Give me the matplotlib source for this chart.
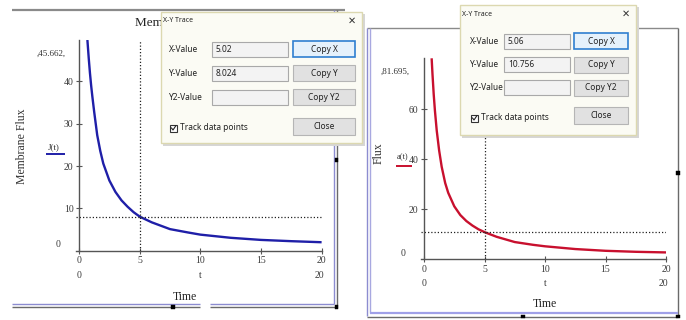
import matplotlib
matplotlib.use("Agg")
import matplotlib.pyplot as plt
from matplotlib.patches import Rectangle

# curve values
t_left = [0.69, 0.8, 0.9, 1.0, 1.1, 1.25, 1.5, 1.75, 2.0, 2.5, 3.0, 3.5, 4.0, 4.5,
          5.02, 6.0, 7.5, 9.0, 10.0, 12.5, 15.0, 17.5, 20.0]
j_left = [49.8, 45.5, 42.0, 39.0, 36.4, 32.8, 27.3, 23.6, 20.6, 16.6, 13.9, 11.9, 10.4, 9.1,
          8.024, 6.7, 5.1, 4.3, 3.8, 3.05, 2.55, 2.25, 2.0]

t_right = [0.63, 0.7, 0.8, 0.9, 1.05, 1.25, 1.46, 1.75, 2.0, 2.5, 3.0, 3.5, 4.0, 4.5,
           5.06, 6.0, 7.5, 9.0, 10.0, 12.5, 15.0, 17.5, 20.0]
a_right = [80.4, 74.0, 66.0, 59.5, 51.5, 43.5, 37.0, 30.5, 26.6, 21.2, 17.7, 15.3, 13.5, 12.0,
           10.756, 9.0, 6.9, 5.8, 5.2, 4.1, 3.4, 3.0, 2.75]

# trace cursor values shown in the dialogs
trace_left = (5.02, 8.024)
trace_right = (5.06, 10.756)
max_left = "45.662"
max_right = "81.695"

x_ticks = [0, 5, 10, 15, 20]
y_ticks_left = [10, 20, 30, 40]
y_ticks_right = [20, 40, 60]

W, H = 686, 320
fig = plt.figure(figsize=(W / 100, H / 100), dpi=100)
fig.patch.set_facecolor("white")

serif = "Liberation Serif"
ui = "Noto Sans"
tick_col = "#3a3a3a"


def px_axes(x0, y0, x1, y1):
    return fig.add_axes([x0 / W, 1 - y1 / H, (x1 - x0) / W, (y1 - y0) / H])


def style_axes(ax, ymax, yticks):
    ax.set_xlim(-0.25, 20)
    ax.set_ylim(0, ymax)
    for s in ["top", "right"]:
        ax.spines[s].set_visible(False)
    ax.spines["left"].set_position(("data", 0))
    for s in ["left", "bottom"]:
        ax.spines[s].set_color("#555555")
        ax.spines[s].set_linewidth(1.0)
    ax.set_xticks(x_ticks)
    ax.set_yticks(yticks)
    ax.tick_params(direction="inout", length=4, width=0.8, color="#555555",
                   labelsize=7, labelcolor=tick_col, pad=2)
    for lab in ax.get_xticklabels() + ax.get_yticklabels():
        lab.set_fontfamily(serif)
    ax.patch.set_alpha(0)
    # Mathcad style lower limit labels + variable name
    ax.text(-0.075, 0.03, "0", transform=ax.transAxes, fontsize=7, family=serif,
            color=tick_col, ha="center", va="center")
    ax.text(0, -0.12, "0", transform=ax.get_xaxis_transform(), fontsize=7,
            family=serif, color=tick_col, ha="center", va="center")
    ax.text(10, -0.12, "t", transform=ax.get_xaxis_transform(), fontsize=7,
            family=serif, color=tick_col, ha="center", va="center")
    ax.text(19.8, -0.12, "20", transform=ax.get_xaxis_transform(), fontsize=7,
            family=serif, color=tick_col, ha="center", va="center")


# left plot
ax1 = px_axes(76, 40, 321.6, 250.7)
style_axes(ax1, 49.8, y_ticks_left)
ax1.plot(t_left, j_left, color="#1f1fa8", lw=1.7, solid_capstyle="butt")
ax1.axvline(trace_left[0], color="#222222", lw=0.9, ls=(0, (1, 1.6)))
ax1.axhline(trace_left[1], color="#222222", lw=0.9, ls=(0, (1, 1.6)))

# right plot
ax2 = px_axes(421, 58.3, 666, 259.3)
style_axes(ax2, 80.4, y_ticks_right)
ax2.plot(t_right, a_right, color="#c8102e", lw=1.7, solid_capstyle="butt")
ax2.axvline(trace_right[0], color="#222222", lw=0.9, ls=(0, (1, 1.6)))
ax2.axhline(trace_right[1], color="#222222", lw=0.9, ls=(0, (1, 1.6)))

# overlay in pixel coordinates for frames, labels and dialogs
ov = fig.add_axes([0, 0, 1, 1])
ov.set_xlim(0, W)
ov.set_ylim(H, 0)
ov.axis("off")
ov.patch.set_alpha(0)
ov.set_zorder(10)


def line(xs, ys, c, lw=1.0, z=2):
    ov.plot(xs, ys, color=c, lw=lw, zorder=z, solid_capstyle="butt")


def rect(x0, y0, x1, y1, fc, ec, lw=0.8, z=5):
    p = Rectangle((x0, y0), x1 - x0, y1 - y0, facecolor=fc, edgecolor=ec,
                  lw=lw, zorder=z)
    ov.add_patch(p)
    return p


def handle(x, y):
    rect(x - 1.6, y - 1.6, x + 1.6, y + 1.6, "black", "black", 0.3, 3)


# left region frame
line([12, 345], [10, 10], "#8a8a8a", 1.6)
line([333.5, 333.5], [10, 303.5], "#8c8cd0", 1.0)
line([336.5, 336.5], [10, 307.5], "#6a6a6a", 1.0)
line([12, 200], [303.5, 303.5], "#8c8cd0", 1.0)
line([210, 334], [303.5, 303.5], "#8c8cd0", 1.0)
line([12, 200], [307, 307], "#6a6a6a", 1.0)
line([210, 337], [307, 307], "#6a6a6a", 1.0)
handle(173, 307)
handle(336.5, 307)
handle(336.5, 160)

# right region frame
line([367, 678], [28, 28], "#8a8a8a", 1.0)
line([678, 678], [28, 316], "#6a6a6a", 1.0)
line([367, 367], [28, 316], "#8c8cd0", 1.0)
line([370, 370], [28, 313], "#a8a8e0", 1.0)
line([370, 678], [313, 313], "#a0a0e8", 1.6)
line([367, 678], [316.5, 316.5], "#6a6a6a", 1.0)
handle(523, 316.5)
handle(678, 316.5)
handle(678, 173)

# texts of the plots; the left title is hidden behind the trace dialog
title = ov.text(135, 23, "Membrane Flux", fontsize=9.5, family=serif,
                color="#222222", ha="left", va="center", zorder=2)
clip = Rectangle((0, 0), 161, 60, transform=ov.transData, visible=False)
title.set_clip_path(clip)

ov.text(22, 146, "Membrane Flux", fontsize=8.5, family=serif, color="#333333",
        rotation=90, ha="center", va="center", zorder=2)
ov.text(54, 147, "J(t)", fontsize=6.5, family=serif, color="#333333",
        ha="center", va="center", zorder=2)
line([46, 65], [154, 154], "#1f1fa8", 1.4)
ov.text(51, 54, "," + max_left + ",", fontsize=6.5, family=serif, color="#333333",
        ha="center", va="center", zorder=2)
ov.text(185, 297, "Time", fontsize=8.5, family=serif, color="#222222",
        ha="center", va="center", zorder=2)

ov.text(379, 153, "Flux", fontsize=8.5, family=serif, color="#333333",
        rotation=90, ha="center", va="center", zorder=2)
ov.text(403, 157, "a(t)", fontsize=6, family=serif, color="#333333",
        ha="center", va="center", zorder=2)
line([396, 412], [166, 166], "#c8102e", 1.4)
ov.text(395, 72, "," + max_right + ",", fontsize=6.5, family=serif, color="#333333",
        ha="center", va="center", zorder=2)
ov.text(545, 304, "Time", fontsize=8.5, family=serif, color="#222222",
        ha="center", va="center", zorder=2)


def dialog(x0, y0, x1, y1, lab_x, box_x, btn_x, rows, chk_y, close_y, xval, yval):
    # shadow + body
    rect(x0 + 1.5, y0 + 1.5, x1 + 2.5, y1 + 2.5, "#d6d6d6", "none", 0, 5)
    rect(x0, y0, x1, y1, "#fbfbf4", "#dcd8b0", 1.0, 6)
    ov.text(x0 + 2, y0 + 9, "X-Y Trace", fontsize=5, family=ui, color="#222222",
            ha="left", va="center", zorder=8)
    ov.text(x1 - 10, y0 + 9, "\u2715", fontsize=7, family="DejaVu Sans",
            color="#333333", ha="center", va="center", zorder=8)
    names = ["X-Value", "Y-Value", "Y2-Value"]
    vals = [xval, yval, ""]
    btns = ["Copy X", "Copy Y", "Copy Y2"]
    for i, yc in enumerate(rows):
        ov.text(lab_x, yc, names[i], fontsize=6, family=ui, color="#222222",
                ha="left", va="center", zorder=8)
        rect(box_x[0], yc - 7.5, box_x[1], yc + 7.5, "#f3f3f3", "#a9a9a9", 0.8, 7)
        ov.text(box_x[0] + 4, yc, vals[i], fontsize=6, family=ui, color="#222222",
                ha="left", va="center", zorder=8)
        if i == 0:
            rect(btn_x[0], yc - 8, btn_x[1], yc + 8, "#e5f1fb", "#2f7fd0", 1.2, 7)
        else:
            rect(btn_x[0], yc - 8, btn_x[1], yc + 8, "#e1e1e1", "#b5b5b5", 0.8, 7)
        ov.text((btn_x[0] + btn_x[1]) / 2, yc, btns[i], fontsize=6, family=ui,
                color="#222222", ha="center", va="center", zorder=8)
    # checkbox
    rect(lab_x + 1, chk_y - 3.5, lab_x + 8, chk_y + 3.5, "white", "#333333", 0.8, 7)
    ov.plot([lab_x + 2.5, lab_x + 4, lab_x + 6.8], [chk_y, chk_y + 2, chk_y - 2.2],
            color="#222222", lw=0.8, zorder=8)
    ov.text(lab_x + 11, chk_y, "Track data points", fontsize=6, family=ui,
            color="#222222", ha="left", va="center", zorder=8)
    rect(btn_x[0], close_y[0], btn_x[1], close_y[1], "#e1e1e1", "#b5b5b5", 0.8, 7)
    ov.text((btn_x[0] + btn_x[1]) / 2, sum(close_y) / 2, "Close", fontsize=6,
            family=ui, color="#222222", ha="center", va="center", zorder=8)


dialog(161, 12, 362, 143, 169, (212, 288), (293, 355), [49, 73, 97], 128,
       (118, 135), "5.02", "8.024")
dialog(460, 5, 636, 135, 470, (504, 570), (574, 628), [41, 64.5, 87.5], 118,
       (107, 124), "5.06", "10.756")

fig.savefig("out.png", dpi=100)
